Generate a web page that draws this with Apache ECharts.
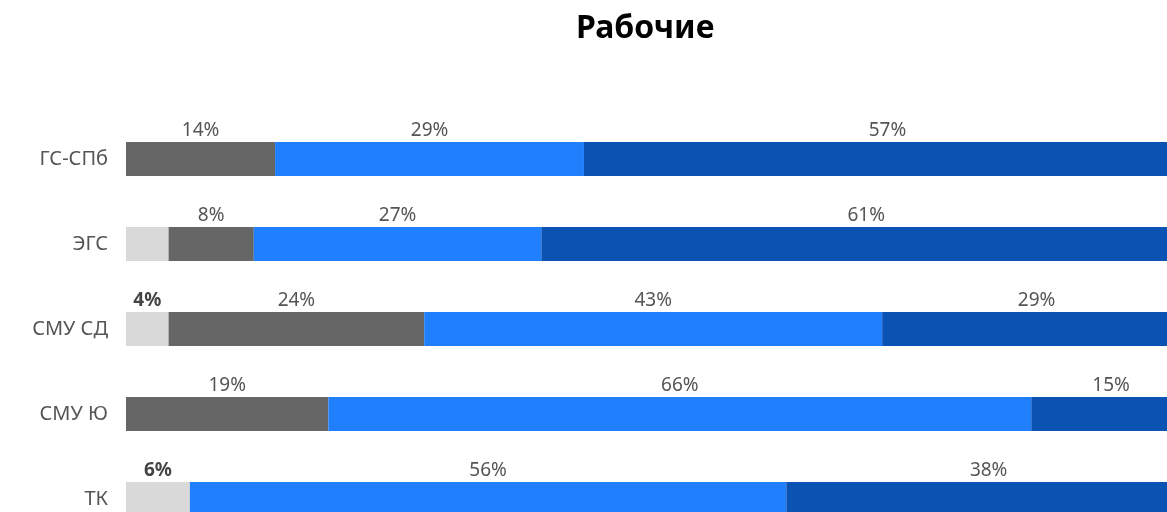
<!DOCTYPE html>
<html>
<head>
<meta charset="utf-8">
<style>
  html, body { margin: 0; padding: 0; background: #ffffff; overflow: hidden; }
  /* the drawing surface runs past the right and bottom window edges,
     so the last bar row and the far ends of the bars are cut off */
  #chart { width: 1200px; height: 560px; }
</style>
<script src="https://cdn.jsdelivr.net/npm/echarts@6/dist/echarts.min.js"></script>
</head>
<body>
<div id="chart"></div>
<script>
// Categories, top to bottom
const categories = ['ГС-СПб', 'ЭГС', 'СМУ СД', 'СМУ Ю', 'ТК'];

// Shares per group (%), one array per segment, left to right
const lightGrayValues = [0, 4, 4, 0, 6];
const darkGrayValues  = [14, 8, 24, 19, 0];
const blueValues      = [29, 27, 43, 66, 56];
const darkBlueValues  = [57, 61, 29, 15, 38];

// Which light-gray segments carry a visible label
const lightGrayLabelShown = [false, false, true, false, true];

const FONT = '"Noto Sans", sans-serif';

function makeSeries(name, values, color, labelStyle, shownMask) {
  return {
    name: name,
    type: 'bar',
    stack: 'total',
    barWidth: 34,
    itemStyle: { color: color },
    label: Object.assign({
      show: true,
      position: 'top',
      distance: 2,
      fontFamily: FONT,
      fontSize: 19,
      color: '#555555',
      formatter: function (p) { return p.value > 0 ? p.value + '%' : ''; }
    }, labelStyle || {}),
    data: values.map(function (v, i) {
      const item = { value: v };
      if (shownMask && !shownMask[i]) item.label = { show: false };
      return item;
    })
  };
}

const chart = echarts.init(document.getElementById('chart'), null, { renderer: 'canvas' });

chart.setOption({
  animation: false,
  backgroundColor: '#ffffff',
  title: {
    text: 'Рабочие',
    left: 571,
    top: 8,
    textStyle: {
      fontFamily: FONT,
      fontSize: 32,
      fontWeight: 'bold',
      color: '#000000'
    }
  },
  grid: {
    left: 126,
    top: 116.5,
    width: 1065,
    height: 425,
    containLabel: false
  },
  xAxis: {
    type: 'value',
    min: 0,
    max: 100,
    show: false
  },
  yAxis: {
    type: 'category',
    data: categories,
    inverse: true,
    axisLine: { show: false },
    axisTick: { show: false },
    splitLine: { show: false },
    axisLabel: {
      margin: 18,
      fontFamily: FONT,
      fontSize: 20,
      color: '#555555'
    }
  },
  series: [
    makeSeries('light', lightGrayValues, '#d9d9d9',
      { fontWeight: 'bold', color: '#444444' }, lightGrayLabelShown),
    makeSeries('dark', darkGrayValues, '#666666'),
    makeSeries('blue', blueValues, '#1f7ffd'),
    makeSeries('navy', darkBlueValues, '#0b53b2')
  ]
});
</script>
</body>
</html>
